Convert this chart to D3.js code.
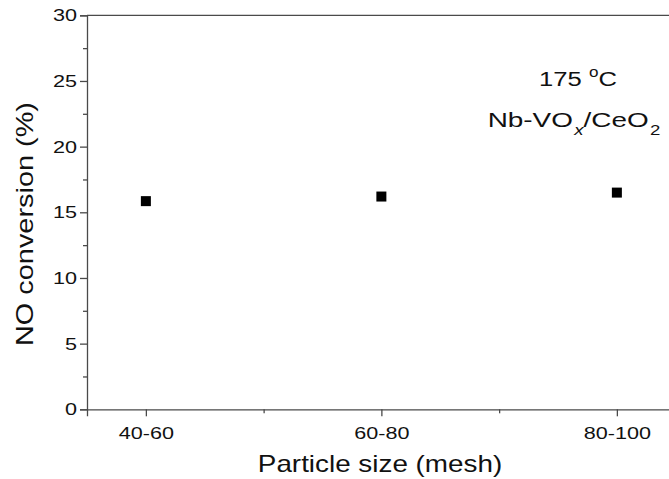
<!DOCTYPE html>
<html>
<head>
<meta charset="utf-8">
<script src="https://cdn.jsdelivr.net/npm/d3@7"></script>
<style>
  html, body { margin: 0; padding: 0; background: #fff; }
  svg { display: block; font-family: "Liberation Sans", Arial, sans-serif; }
</style>
</head>
<body>
<svg id="chart" width="669" height="479"></svg>
<script>
const categories = ["40-60", "60-80", "80-100"];
const conversion = [15.85, 16.2, 16.5];
const yTicks = [0, 5, 10, 15, 20, 25, 30];
const yMinorTicks = [2.5, 7.5, 12.5, 17.5, 22.5, 27.5];
const xMinorTicks = [0.5, 1.5];

const svg = d3.select("#chart");
const plotLeft = 87, plotTop = 15.3, plotBottom = 409.3;
const step = 235.5;
const x = d3.scaleLinear().domain([-0.25, 2.25]).range([plotLeft, plotLeft + 2.5 * step]);
const y = d3.scaleLinear().domain([0, 30]).range([plotBottom, plotTop]);
const axisColor = "#4a4a4a";
const textColor = "#111";
const stretch = 1.27;   // horizontal glyph stretch seen in the reference

// top frame line
svg.append("line").attr("x1", x(-0.25)).attr("x2", x(2.25)).attr("y1", y(30)).attr("y2", y(30))
  .attr("stroke", axisColor).attr("stroke-width", 1.3);

// Y axis major
const yAxis = d3.axisLeft(y).tickValues(yTicks).tickSize(7).tickPadding(3).tickFormat(d3.format("d"));
const gy = svg.append("g").attr("transform", `translate(${plotLeft},0)`).call(yAxis);
gy.select(".domain").attr("stroke", axisColor).attr("stroke-width", 1.3);
gy.selectAll(".tick line").attr("stroke", axisColor).attr("stroke-width", 1.3);
gy.selectAll(".tick text").attr("font-size", 17).attr("fill", textColor)
  .attr("font-family", "Liberation Sans, Arial, sans-serif")
  .attr("x", -10 / stretch)
  .attr("transform", `scale(${stretch},1)`);
// Y minor
const gym = svg.append("g").attr("transform", `translate(${plotLeft},0)`)
  .call(d3.axisLeft(y).tickValues(yMinorTicks).tickSize(4).tickFormat(""));
gym.select(".domain").remove();
gym.selectAll(".tick line").attr("stroke", axisColor).attr("stroke-width", 1.3);

// X axis major
const xAxis = d3.axisBottom(x).tickValues([0, 1, 2]).tickSize(7).tickPadding(10.5)
  .tickFormat(i => categories[i]);
const gx = svg.append("g").attr("transform", `translate(0,${plotBottom})`).call(xAxis);
gx.select(".domain").attr("stroke", axisColor).attr("stroke-width", 1.3);
gx.selectAll(".tick line").attr("stroke", axisColor).attr("stroke-width", 1.3);
gx.selectAll(".tick text").attr("font-size", 17).attr("fill", textColor)
  .attr("font-family", "Liberation Sans, Arial, sans-serif")
  .attr("transform", `scale(${stretch},1)`);
const gxm = svg.append("g").attr("transform", `translate(0,${plotBottom})`)
  .call(d3.axisBottom(x).tickValues(xMinorTicks).tickSize(4).tickFormat(""));
gxm.select(".domain").remove();
gxm.selectAll(".tick line").attr("stroke", axisColor).attr("stroke-width", 1.3);

// Data points
svg.append("g").selectAll("rect").data(conversion).join("rect")
  .attr("x", (d, i) => x(i) - 5)
  .attr("y", d => y(d) - 5)
  .attr("width", 10).attr("height", 10)
  .attr("fill", "#000");

// Axis titles
svg.append("text")
  .attr("transform", `translate(33,224) rotate(-90)`)
  .attr("text-anchor", "middle")
  .attr("font-size", 24).attr("fill", textColor)
  .attr("textLength", 244).attr("lengthAdjust", "spacingAndGlyphs")
  .text("NO conversion (%)");

svg.append("g").attr("transform", `translate(380,472) scale(1.16,1)`)
  .append("text")
  .attr("text-anchor", "middle")
  .attr("font-size", 24).attr("fill", textColor)
  .text("Particle size (mesh)");

// Annotation
const t1 = svg.append("g").attr("transform", `translate(578,86) scale(1.22,1)`)
  .append("text").attr("text-anchor", "middle")
  .attr("font-size", 21).attr("fill", textColor);
t1.append("tspan").text("175 ");
t1.append("tspan").attr("font-size", 14).attr("dy", -9).text("o");
t1.append("tspan").attr("dy", 9).text("C");

const t2 = svg.append("g").attr("transform", `translate(574,127) scale(1.33,1)`)
  .append("text").attr("text-anchor", "middle")
  .attr("font-size", 21).attr("fill", textColor);
t2.append("tspan").text("Nb-VO");
t2.append("tspan").attr("font-size", 14).attr("dy", 8).attr("dx", 1).attr("font-style", "italic").text("x");
t2.append("tspan").attr("dy", -8).text("/CeO");
t2.append("tspan").attr("font-size", 14).attr("dy", 8).attr("dx", 1).text("2");
</script>
</body>
</html>
